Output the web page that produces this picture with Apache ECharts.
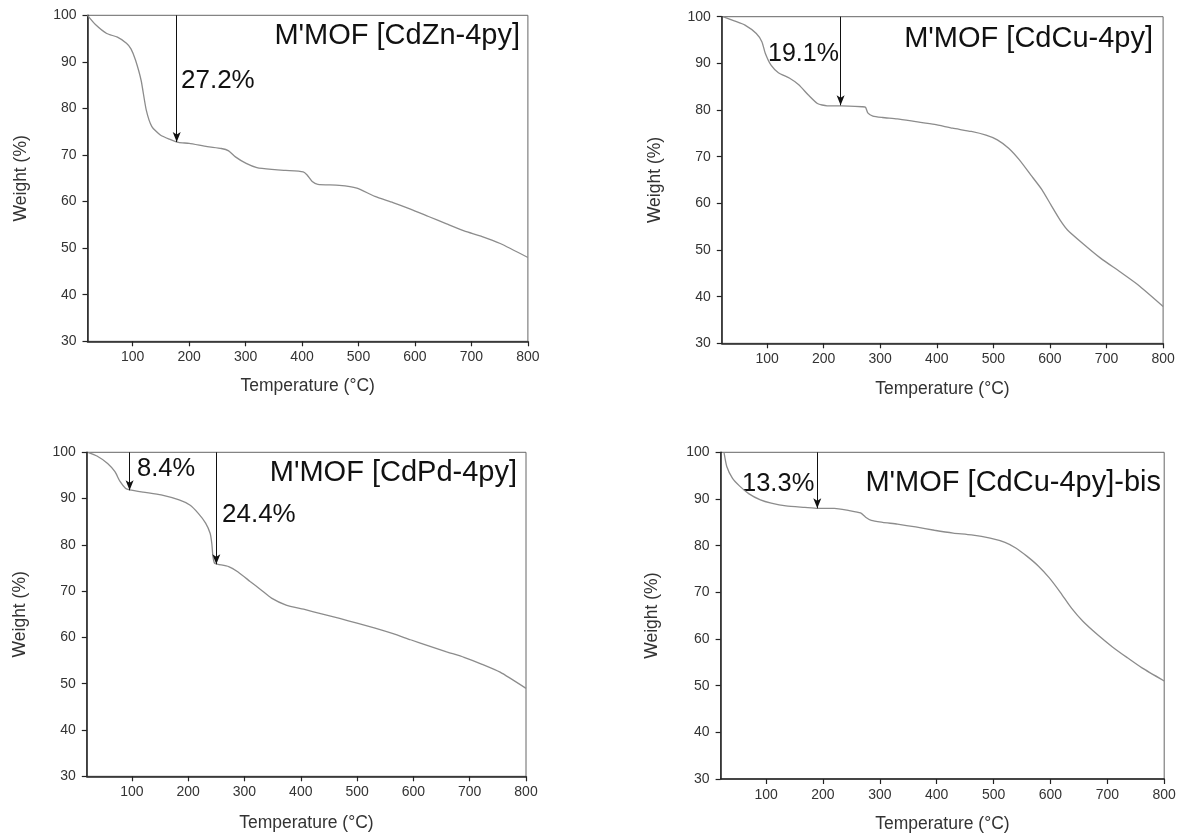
<!DOCTYPE html>
<html>
<head>
<meta charset="utf-8">
<script src="https://cdn.jsdelivr.net/npm/echarts@6/dist/echarts.min.js"></script>
<style>
html,body{margin:0;padding:0;background:#fff;}
#chart{width:1182px;height:834px;}
</style>
</head>
<body>
<div id="chart"></div>
<script>
// ---------- data ----------
const xTicks = [100, 200, 300, 400, 500, 600, 700, 800];
const yTicks = [30, 40, 50, 60, 70, 80, 90, 100];

const panelTitles = ["M'MOF [CdZn-4py]", "M'MOF [CdCu-4py]", "M'MOF [CdPd-4py]", "M'MOF [CdCu-4py]-bis"];

const tempZn   = [20, 35, 54, 73, 89, 97, 105, 115, 124, 134, 149, 165, 181, 200, 232, 257, 270, 282, 301, 320, 346, 371, 402, 409, 418, 428, 466, 497, 529, 561, 592, 624, 656, 687, 719, 751, 800];
const weightZn = [100, 97.9, 96.1, 95.3, 94, 92.8, 90.4, 86, 79.7, 76.1, 74.3, 73.4, 72.7, 72.5, 71.8, 71.4, 70.9, 69.6, 68.2, 67.3, 66.9, 66.7, 66.4, 65.7, 64.3, 63.7, 63.5, 62.9, 61.1, 59.8, 58.4, 56.8, 55.2, 53.7, 52.5, 51.0, 48.0];

const tempCu   = [22, 42, 61, 81, 91, 97, 107, 120, 140, 156, 173, 189, 206, 232, 268, 274, 278, 287, 304, 330, 363, 396, 428, 461, 487, 507, 527, 546, 566, 586, 602, 618, 631, 658, 690, 723, 756, 800];
const weightCu = [100, 99.1, 98.2, 96.4, 94.6, 92.1, 89.6, 88, 86.8, 85.4, 83.2, 81.4, 80.9, 80.9, 80.7, 80.6, 79.4, 78.7, 78.4, 78.1, 77.5, 76.9, 76.1, 75.4, 74.6, 73.6, 71.8, 69.3, 66.1, 62.9, 59.6, 56.4, 54.3, 51.4, 48.2, 45.4, 42.5, 37.9];

const tempPd   = [22, 38, 57, 70, 79, 89, 96, 120, 152, 184, 203, 218, 231, 239, 242, 244, 247, 253, 272, 288, 310, 329, 348, 374, 405, 437, 469, 500, 532, 564, 595, 627, 659, 690, 722, 754, 800];
const weightPd = [100, 99.2, 97.6, 95.8, 93.7, 92.2, 91.9, 91.4, 90.8, 89.7, 88.6, 86.8, 84.7, 82.5, 80.3, 77.5, 76.0, 75.8, 75.3, 74.2, 72.1, 70.3, 68.5, 67.0, 66.1, 65.1, 64.1, 63.1, 62.0, 60.8, 59.5, 58.2, 56.9, 55.7, 54.2, 52.5, 49.0];

const tempBis   = [26, 31, 41, 54, 70, 90, 109, 135, 168, 191, 220, 246, 266, 275, 285, 305, 331, 363, 396, 429, 461, 494, 520, 539, 559, 579, 598, 618, 637, 657, 683, 709, 735, 761, 800];
const weightBis = [100, 96.9, 94.4, 92.7, 91.1, 89.8, 89.1, 88.5, 88.2, 88.0, 88.0, 87.5, 87.0, 86.1, 85.4, 85.0, 84.6, 84.0, 83.3, 82.7, 82.3, 81.6, 80.7, 79.5, 77.7, 75.6, 73.1, 69.9, 66.6, 63.8, 60.9, 58.3, 56.0, 53.8, 51.0];

// arrows: [temperature, end weight], labels
const arrowsZn  = [[178, 72.8]];
const arrowsCu  = [[230, 81.0]];
const arrowsPd  = [[96, 91.8], [250, 75.8]];
const arrowsBis = [[190, 88.0]];
const labelsZn  = ["27.2%"];
const labelsCu  = ["19.1%"];
const labelsPd  = ["8.4%", "24.4%"];
const labelsBis = ["13.3%"];

// ---------- layout ----------
const FONT = "'Liberation Sans', Arial, sans-serif";
const grids = [
  {left: 87.5, top: 15.3, width: 440.4, height: 326},
  {left: 721.8, top: 16.7, width: 441.3, height: 326.6},
  {left: 86.8, top: 452.3, width: 439.2, height: 324},
  {left: 720.6, top: 452.3, width: 443.6, height: 327.4}
];
const yNameGap = [57, 58, 58, 59];
const xNameGap = [36, 37, 38, 36];

const temps = [tempZn, tempCu, tempPd, tempBis];
const weights = [weightZn, weightCu, weightPd, weightBis];
const arrows = [arrowsZn, arrowsCu, arrowsPd, arrowsBis];
const labels = [labelsZn, labelsCu, labelsPd, labelsBis];

// text positions (pixels)
const titlePos = [[520, 36], [1153, 39], [517, 473], [1161, 483]];
const labelPos = [[[181, 81]], [[768, 54]], [[137, 469], [222, 515]], [[742, 484]]];
const labelSize = [[26], [25], [25.5, 26], [25.5]];

const option = {
  animation: false,
  backgroundColor: '#fff',
  grid: grids.map(g => Object.assign({show: true, borderColor: '#666', borderWidth: 1, containLabel: false}, g)),
  xAxis: grids.map((g, i) => ({
    type: 'value', gridIndex: i, min: 20, max: 800,
    name: 'Temperature (°C)', nameLocation: 'middle', nameGap: xNameGap[i],
    nameTextStyle: {fontFamily: FONT, fontSize: 17.5, color: '#333'},
    axisLine: {show: true, onZero: false, lineStyle: {color: '#222', width: 1.5}},
    axisTick: {show: true, inside: false, length: 5, lineStyle: {color: '#222', width: 1.2}, customValues: xTicks},
    axisLabel: {fontFamily: FONT, fontSize: 14, color: '#333', margin: 9, customValues: xTicks},
    splitLine: {show: false}
  })),
  yAxis: grids.map((g, i) => ({
    type: 'value', gridIndex: i, min: 30, max: 100, interval: 10,
    name: 'Weight (%)', nameLocation: 'middle', nameGap: yNameGap[i], nameRotate: 90,
    nameTextStyle: {fontFamily: FONT, fontSize: 17.5, color: '#333'},
    axisLine: {show: true, onZero: false, lineStyle: {color: '#222', width: 1.5}},
    axisTick: {show: true, inside: false, length: 5, lineStyle: {color: '#222', width: 1.2}},
    axisLabel: {fontFamily: FONT, fontSize: 14, color: '#333', margin: 11},
    splitLine: {show: false}
  })),
  series: grids.map((g, i) => ({
    type: 'line', xAxisIndex: i, yAxisIndex: i,
    data: temps[i].map((t, k) => [t, weights[i][k]]),
    showSymbol: false, symbol: 'none',
    smooth: 0.2,
    lineStyle: {color: '#8c8c8c', width: 1.3},
    silent: true,
    markLine: {
      silent: true, animation: false,
      symbol: ['none', 'arrow'], symbolSize: [6, 10],
      label: {show: false},
      lineStyle: {color: '#111', width: 1, type: 'solid'},
      data: arrows[i].map(a => [{coord: [a[0], 100]}, {coord: [a[0], a[1]]}])
    }
  })),
  graphic: []
};

panelTitles.forEach((t, i) => {
  option.graphic.push({
    type: 'text', x: titlePos[i][0], y: titlePos[i][1], silent: true,
    style: {text: t, font: '29px ' + FONT, fill: '#111', textAlign: 'right', textVerticalAlign: 'middle'}
  });
  labels[i].forEach((lab, k) => {
    option.graphic.push({
      type: 'text', x: labelPos[i][k][0], y: labelPos[i][k][1], silent: true,
      style: {text: lab, font: labelSize[i][k] + 'px ' + FONT, fill: '#111', textAlign: 'left', textVerticalAlign: 'middle'}
    });
  });
});

const chart = echarts.init(document.getElementById('chart'), null, {renderer: 'canvas'});
chart.setOption(option);
</script>
</body>
</html>
